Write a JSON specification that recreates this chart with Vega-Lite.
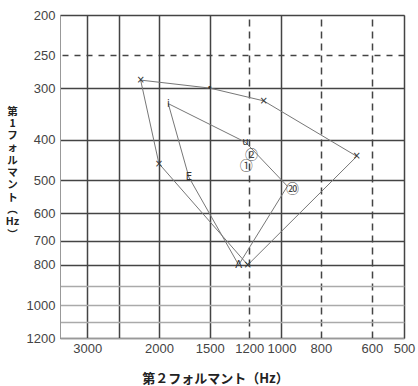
{
  "$schema": "https://vega.github.io/schema/vega-lite/v6.json",
  "width": 344,
  "height": 323,
  "autosize": "none",
  "padding": {"left": 60, "top": 15, "right": 14, "bottom": 48},
  "background": "white",
  "config": {
    "view": {"stroke": "#999", "strokeWidth": 1},
    "axis": {
      "ticks": false,
      "tickSize": 0,
      "domainColor": "#999",
      "domainWidth": 1,
      "labelFont": "Liberation Sans",
      "labelFontSize": 13,
      "labelColor": "#444",
      "gridWidth": 1.5,
      "gridOpacity": 1
    }
  },
  "datasets": {
    "lines": [
      {"poly": "outer", "ord": 1, "f2": 2218, "f1": 287, "mk": "×"},
      {"poly": "outer", "ord": 2, "f2": 1500, "f1": 300, "mk": "•"},
      {"poly": "outer", "ord": 3, "f2": 1106, "f1": 322, "mk": "×"},
      {"poly": "outer", "ord": 4, "f2": 653, "f1": 438, "mk": "×"},
      {"poly": "outer", "ord": 5, "f2": 1210, "f1": 800, "mk": "×"},
      {"poly": "outer", "ord": 6, "f2": 2000, "f1": 456, "mk": "×"},
      {"poly": "outer", "ord": 7, "f2": 2218, "f1": 287, "mk": ""},
      {"poly": "inner", "ord": 1, "f2": 1897, "f1": 327, "mk": "i"},
      {"poly": "inner", "ord": 2, "f2": 1226, "f1": 405, "mk": "u"},
      {"poly": "inner", "ord": 3, "f2": 967, "f1": 517, "mk": ""},
      {"poly": "inner", "ord": 4, "f2": 1274, "f1": 800, "mk": "A"},
      {"poly": "inner", "ord": 5, "f2": 1688, "f1": 492, "mk": "E"},
      {"poly": "inner", "ord": 6, "f2": 1897, "f1": 327, "mk": ""}
    ],
    "notes": [
      {"f2": 1221, "f1": 462, "txt": "①"},
      {"f2": 1185, "f1": 434, "txt": "②"},
      {"f2": 940, "f1": 524, "txt": "⑳"}
    ]
  },
  "layer": [
    {
      "data": {"name": "lines"},
      "mark": {"type": "line", "color": "#777", "strokeWidth": 1},
      "encoding": {
        "x": {
          "field": "f2",
          "type": "quantitative",
          "scale": {"type": "log", "domain": [500, 3500], "reverse": true, "nice": false, "zero": false},
          "axis": {
            "values": [3000, 2500, 2000, 1500, 1200, 1000, 800, 600, 500],
            "format": "d",
            "labelExpr": "datum.value == 2500 ? '' : datum.label",
            "labelPadding": 4,
            "labelFlush": false,
            "labelOverlap": false,
            "grid": true,
            "gridColor": "#444",
            "gridDash": {"condition": {"test": "datum.value == 1200 || datum.value == 800 || datum.value == 600", "value": [7, 5]}, "value": []},
            "title": "第２フォルマント（Hz）",
            "titleFont": "Noto Sans CJK JP",
            "titleFontSize": 13,
            "titleFontWeight": "bold",
            "titleColor": "#222",
            "titleX": 155,
            "titleY": 40,
            "titleAlign": "center",
            "titleBaseline": "middle"
          }
        },
        "y": {
          "field": "f1",
          "type": "quantitative",
          "scale": {"type": "log", "domain": [200, 1200], "reverse": true, "nice": false, "zero": false},
          "axis": {
            "values": [200, 250, 300, 400, 500, 600, 700, 800, 900, 1000, 1100, 1200],
            "format": "d",
            "labelExpr": "datum.value == 900 || datum.value == 1100 ? '' : datum.label",
            "labelPadding": 5,
            "labelFlush": false,
            "labelOverlap": false,
            "labelBaseline": "middle",
            "grid": true,
            "gridColor": {"condition": {"test": "datum.value >= 900 && datum.value <= 1100", "value": "#aaa"}, "value": "#444"},
            "gridDash": {"condition": {"test": "datum.value == 250", "value": [6, 6]}, "value": []},
            "title": ["第", "1", "フ", "ォ", "ル", "マ", "ン", "ト", "︵", "Hz", "︶"],
            "titleFont": "Noto Sans CJK JP",
            "titleFontSize": 10.5,
            "titleFontWeight": "bold",
            "titleColor": "#222",
            "titleAngle": 0,
            "titleLineHeight": 12.3,
            "titleX": -48,
            "titleY": 96,
            "titleAlign": "center",
            "titleBaseline": "middle"
          }
        },
        "detail": {"field": "poly"},
        "order": {"field": "ord"}
      }
    },
    {
      "data": {"name": "lines"},
      "transform": [{"filter": "datum.mk != ''"}],
      "mark": {"type": "text", "font": "DejaVu Sans", "fontSize": 10, "color": "#333", "align": "center", "baseline": "middle"},
      "encoding": {
        "x": {"field": "f2", "type": "quantitative"},
        "y": {"field": "f1", "type": "quantitative"},
        "text": {"field": "mk"}
      }
    },
    {
      "data": {"name": "notes"},
      "mark": {"type": "text", "font": "Noto Sans CJK JP", "fontSize": 13, "color": "#444", "align": "center", "baseline": "middle"},
      "encoding": {
        "x": {"field": "f2", "type": "quantitative"},
        "y": {"field": "f1", "type": "quantitative"},
        "text": {"field": "txt"}
      }
    }
  ]
}
